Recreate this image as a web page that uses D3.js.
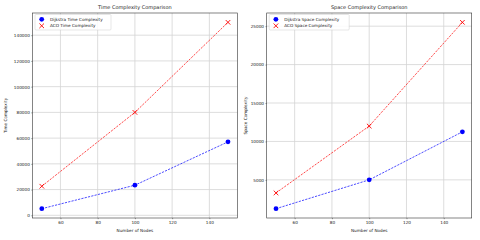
<!DOCTYPE html>
<html><head><meta charset="utf-8">
<script src="https://cdn.jsdelivr.net/npm/d3@7"></script>
<style>body{margin:0;background:#fff}svg{display:block;font-family:"DejaVu Sans",sans-serif}</style>
</head><body>
<script>
const nodes = [50, 100, 150];
const dijkstraTime = [5150, 23400, 57100];
const acoTime = [22600, 80000, 150000];
const dijkstraSpace = [1250, 5000, 11250];
const acoSpace = [3300, 12000, 25500];
const xTicks = [60, 80, 100, 120, 140];
const timeTicks = [0, 20000, 40000, 60000, 80000, 100000, 120000, 140000];
const spaceTicks = [5000, 10000, 15000, 20000, 25000];

const W = 480, H = 240;
const svg = d3.select("body").append("svg").attr("width", W).attr("height", H);

function panel(cfg) {
  const g = svg.append("g");
  const {x0, x1, y0, y1} = cfg;
  const xe = d3.extent(nodes), xp = (xe[1]-xe[0])*0.05;
  const x = d3.scaleLinear().domain([xe[0]-xp, xe[1]+xp]).range([x0, x1]);
  const all = cfg.a.concat(cfg.b);
  const ye = d3.extent(all), yp = (ye[1]-ye[0])*0.05;
  const y = d3.scaleLinear().domain([ye[0]-yp, ye[1]+yp]).range([y1, y0]);

  // grid
  g.append("g").selectAll("line").data(xTicks).join("line")
    .attr("x1", d => x(d)).attr("x2", d => x(d)).attr("y1", y0).attr("y2", y1)
    .attr("stroke", "#d4d4d4").attr("stroke-width", 0.8);
  g.append("g").selectAll("line").data(cfg.yTicks).join("line")
    .attr("y1", d => y(d)).attr("y2", d => y(d)).attr("x1", x0).attr("x2", x1)
    .attr("stroke", "#d4d4d4").attr("stroke-width", 0.8);

  // axes
  const xa = g.append("g").attr("transform", `translate(0,${y1})`)
    .call(d3.axisBottom(x).tickValues(xTicks).tickSize(1.2).tickPadding(1.5).tickFormat(d3.format("d")));
  const ya = g.append("g").attr("transform", `translate(${x0},0)`)
    .call(d3.axisLeft(y).tickValues(cfg.yTicks).tickSize(1.2).tickPadding(1.5).tickFormat(d3.format("d")));
  [xa, ya].forEach(a => {
    a.select(".domain").remove();
    a.selectAll("line").attr("stroke", "#333").attr("stroke-width", 0.5);
    a.selectAll("text").attr("font-size", 4.2).attr("fill", "#222").attr("font-family", "DejaVu Sans");
  });

  // frame
  g.append("rect").attr("x", x0).attr("y", y0).attr("width", x1-x0).attr("height", y1-y0)
    .attr("fill", "none").attr("stroke", "#333").attr("stroke-width", 0.6);

  const line = d3.line().x((d,i) => x(nodes[i])).y(d => y(d));
  // Dijkstra
  g.append("path").datum(cfg.a).attr("d", line).attr("fill", "none")
    .attr("stroke", "blue").attr("stroke-opacity", 0.7).attr("stroke-width", 1).attr("stroke-dasharray", "2.2,1.2");
  g.append("g").selectAll("circle").data(cfg.a).join("circle")
    .attr("cx", (d,i) => x(nodes[i])).attr("cy", d => y(d)).attr("r", 2.4).attr("fill", "blue");
  // ACO
  g.append("path").datum(cfg.b).attr("d", line).attr("fill", "none")
    .attr("stroke", "red").attr("stroke-opacity", 0.7).attr("stroke-width", 1).attr("stroke-dasharray", "2.2,1.2");
  const s = 2.3;
  g.append("g").selectAll("path").data(cfg.b).join("path")
    .attr("d", (d,i) => { const cx = x(nodes[i]), cy = y(d);
      return `M${cx-s},${cy-s}L${cx+s},${cy+s}M${cx-s},${cy+s}L${cx+s},${cy-s}`; })
    .attr("stroke", "red").attr("stroke-width", 0.9).attr("fill", "none");

  // title & labels
  g.append("text").attr("x", (x0+x1)/2).attr("y", 8.7).attr("text-anchor", "middle")
    .attr("font-size", 5).attr("fill", "#222").text(cfg.title);
  g.append("text").attr("x", (x0+x1)/2).attr("y", 231.5).attr("text-anchor", "middle")
    .attr("font-size", 4.2).attr("fill", "#222").text("Number of Nodes");
  g.append("text").attr("transform", `translate(${cfg.ylx},${(y0+y1)/2}) rotate(-90)`)
    .attr("text-anchor", "middle").attr("font-size", 4.2).attr("fill", "#222").text(cfg.ylabel);

  // legend
  const lx = x0 + 2.5, ly = y0 + 1.5;
  g.append("rect").attr("x", lx).attr("y", ly).attr("width", cfg.legW).attr("height", 15.5).attr("rx", 1)
    .attr("fill", "#fff").attr("fill-opacity", 0.85).attr("stroke", "#ccc").attr("stroke-width", 0.5);
  g.append("circle").attr("cx", lx+6.7).attr("cy", ly+4.8).attr("r", 2.4).attr("fill", "blue");
  const mx = lx+6.7, my = ly+11.3;
  g.append("path").attr("d", `M${mx-s},${my-s}L${mx+s},${my+s}M${mx-s},${my+s}L${mx+s},${my-s}`)
    .attr("stroke", "red").attr("stroke-width", 0.9);
  g.append("text").attr("x", lx+15).attr("y", ly+6.2).attr("font-size", 4.2).attr("fill", "#222").text(cfg.la);
  g.append("text").attr("x", lx+15).attr("y", ly+12.7).attr("font-size", 4.2).attr("fill", "#222").text(cfg.lb);
}

panel({x0: 32.5, x1: 237.3, y0: 13, y1: 218, a: dijkstraTime, b: acoTime, yTicks: timeTicks,
  title: "Time Complexity Comparison", ylabel: "Time Complexity", ylx: 7,
  la: "Dijkstra Time Complexity", lb: "ACO Time Complexity", legW: 76});
panel({x0: 266.7, x1: 471.7, y0: 13, y1: 218, a: dijkstraSpace, b: acoSpace, yTicks: spaceTicks,
  title: "Space Complexity Comparison", ylabel: "Space Complexity", ylx: 247,
  la: "Dijkstra Space Complexity", lb: "ACO Space Complexity", legW: 80});
</script>
</body></html>
